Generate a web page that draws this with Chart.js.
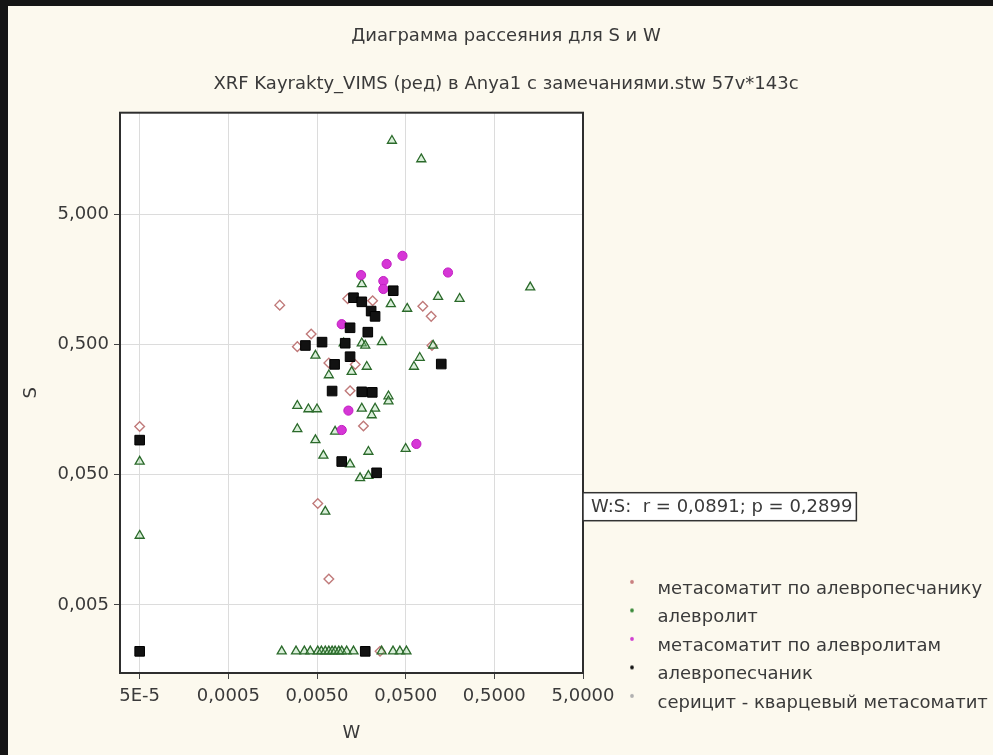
<!DOCTYPE html>
<html lang="ru">
<head>
<meta charset="utf-8">
<title>Диаграмма рассеяния для S и W</title>
<script src="https://cdn.jsdelivr.net/npm/chart.js@4.4.1/dist/chart.umd.min.js"></script>
<style>
  html, body { margin: 0; padding: 0; background: #fcf9ee; }
  #wrap { position: relative; width: 993px; height: 755px; overflow: hidden; }
  #wrap canvas { position: absolute; left: 0; top: 0; }
  .edge { position: absolute; background: #151515; }
  .edge.top { left: 0; top: 0; width: 993px; height: 6px; }
  .edge.left { left: 0; top: 0; width: 8px; height: 755px; }
</style>
</head>
<body>
<div id="wrap">
  <canvas id="scatterSW" width="993" height="755"></canvas>
  <div class="edge top"></div>
  <div class="edge left"></div>
</div>
<script>
// ── Оси (логарифмические) ──
var xTickValues = [0.00005, 0.0005, 0.005, 0.05, 0.5, 5];
var xTickLabels = ['5E-5', '0,0005', '0,0050', '0,0500', '0,5000', '5,0000'];
var yTickValues = [0.005, 0.05, 0.5, 5];
var yTickLabels = ['0,005', '0,050', '0,500', '5,000'];

var seriesNames = [
    'метасоматит по алевропесчанику',
    'алевролит',
    'метасоматит по алевролитам',
    'алевропесчаник',
    'серицит - кварцевый метасоматит'
];

// метасоматит по алевропесчанику
var mpsW = [0.0019, 0.0111, 0.0212, 0.078, 0.097, 0.0043, 0.0030, 0.099, 0.0068, 0.0135, 0.0118, 0.00005, 0.0167, 0.0051, 0.0068, 0.0257];
var mpsS = [1.00, 1.12, 1.08, 0.98, 0.82, 0.60, 0.48, 0.49, 0.36, 0.35, 0.22, 0.117, 0.118, 0.030, 0.0079, 0.0022];

// алевролит
var alvW = [0.035, 0.075, 1.27, 0.116, 0.203, 0.034, 0.052, 0.016, 0.027, 0.102,
            0.0048, 0.072, 0.062, 0.0068, 0.0100, 0.016, 0.0175, 0.0182, 0.0123, 0.032,
            0.0030, 0.0040, 0.0050, 0.0030, 0.0048, 0.0059, 0.019, 0.050, 0.032, 0.0226,
            0.0207, 0.0153, 0.019, 0.0118, 0.00005, 0.00005, 0.0062, 0.016, 0.0080,
            0.0020, 0.0029, 0.0036, 0.0042, 0.0051, 0.0056, 0.0062, 0.0068, 0.0074, 0.0080,
            0.0088, 0.0095, 0.0108, 0.0129, 0.0268, 0.036, 0.043, 0.051];
var alvS = [18.3, 13.2, 1.37, 1.16, 1.12, 1.02, 0.94, 1.45, 0.52, 0.49,
            0.41, 0.395, 0.337, 0.29, 0.51, 0.51, 0.49, 0.337, 0.308, 0.20,
            0.169, 0.159, 0.159, 0.112, 0.092, 0.070, 0.075, 0.079, 0.183, 0.161,
            0.143, 0.047, 0.049, 0.060, 0.063, 0.017, 0.026, 0.161, 0.107,
            0.0022, 0.0022, 0.0022, 0.0022, 0.0022, 0.0022, 0.0022, 0.0022, 0.0022, 0.0022,
            0.0022, 0.0022, 0.0022, 0.0022, 0.0022, 0.0022, 0.0022, 0.0022];

// метасоматит по алевролитам
var mplW = [0.046, 0.0305, 0.150, 0.0157, 0.028, 0.028, 0.0095, 0.0113, 0.066, 0.0095];
var mplS = [2.39, 2.07, 1.78, 1.70, 1.53, 1.33, 0.714, 0.155, 0.086, 0.110];

// алевропесчаник
var apsW = [0.0362, 0.0129, 0.016, 0.0204, 0.0226, 0.0118, 0.0187, 0.0037, 0.0057, 0.126,
            0.0079, 0.0118, 0.0074, 0.016, 0.021, 0.0104, 0.00005, 0.0095, 0.0235, 0.00005, 0.0175];
var apsS = [1.29, 1.14, 1.06, 0.90, 0.82, 0.67, 0.62, 0.49, 0.52, 0.353,
            0.351, 0.402, 0.219, 0.216, 0.214, 0.51, 0.092, 0.063, 0.0516, 0.0022, 0.0022];

// серицит - кварцевый метасоматит (точек на графике нет)
var skmW = [];
var skmS = [];

var corrLabel = 'W:S:  r = 0,0891; p = 0,2899';

var legendColors = ['#c98080', '#3a8a3a', '#d040d0', '#111111', '#b0b0b0'];

function toPoints(ws, ss) {
    return ws.map(function(w, i) { return { x: w, y: ss[i] }; });
}

// маленькая точка-маркер для легенды (чуть выше строки текста)
function legendDot(color) {
    var c = document.createElement('canvas');
    c.width = 40; c.height = 24;
    var g = c.getContext('2d');
    g.fillStyle = color;
    g.beginPath();
    g.arc(31, 5, 1.9, 0, Math.PI * 2);
    g.fill();
    return c;
}
var legendDots = legendColors.map(legendDot);

var FONT = '"DejaVu Sans", sans-serif';
var TEXT = '#3a3a3a';

// ── фон области построения, рамка и подпись корреляции ──
var plotFrame = {
    id: 'plotFrame',
    beforeDraw: function(chart) {
        var a = chart.chartArea, ctx = chart.ctx;
        ctx.save();
        ctx.fillStyle = '#ffffff';
        ctx.fillRect(a.left, a.top, a.right - a.left, a.bottom - a.top);
        ctx.restore();
    },
    afterDatasetsDraw: function(chart) {
        var a = chart.chartArea, ctx = chart.ctx;
        ctx.save();
        ctx.strokeStyle = '#2e2e2e';
        ctx.lineWidth = 2;
        ctx.strokeRect(a.left, a.top, a.right - a.left, a.bottom - a.top);
        ctx.restore();
    },
    afterDraw: function(chart) {
        var a = chart.chartArea, ctx = chart.ctx;
        ctx.save();
        ctx.font = '18px ' + FONT;
        var tw = ctx.measureText(corrLabel).width;
        var x = a.right, y = a.top + 380, h = 28;
        ctx.fillStyle = '#ffffff';
        ctx.fillRect(x, y, tw + 12, h);
        ctx.strokeStyle = '#333333';
        ctx.lineWidth = 1.5;
        ctx.strokeRect(x, y, tw + 12, h);
        ctx.fillStyle = TEXT;
        ctx.textBaseline = 'middle';
        ctx.fillText(corrLabel, x + 8, y + h / 2 + 1);
        ctx.restore();
    }
};

var ctx = document.getElementById('scatterSW').getContext('2d');
new Chart(ctx, {
    type: 'scatter',
    data: {
        datasets: [
            { label: seriesNames[0], data: toPoints(mpsW, mpsS), order: 4,
              pointStyle: 'rectRot', pointRadius: 4.8, borderWidth: 1.4,
              borderColor: '#c07a7a', backgroundColor: 'rgba(255,255,255,0.85)' },
            { label: seriesNames[1], data: toPoints(alvW, alvS), order: 3,
              pointStyle: 'triangle', pointRadius: 5.2, borderWidth: 1.3,
              borderColor: '#2b6a2b', backgroundColor: 'rgba(150,210,150,0.35)' },
            { label: seriesNames[2], data: toPoints(mplW, mplS), order: 2,
              pointStyle: 'circle', pointRadius: 4.6, borderWidth: 1,
              borderColor: '#c21fc2', backgroundColor: '#d636d6' },
            { label: seriesNames[3], data: toPoints(apsW, apsS), order: 1,
              pointStyle: 'rect', pointRadius: 6.8, borderWidth: 1,
              borderColor: '#000000', backgroundColor: '#121212' },
            { label: seriesNames[4], data: toPoints(skmW, skmS), order: 5,
              pointStyle: 'circle', pointRadius: 3, borderWidth: 1,
              borderColor: '#a0a0a0', backgroundColor: '#b0b0b0' }
        ]
    },
    options: {
        responsive: false,
        animation: false,
        layout: { padding: { left: 19, right: 0, top: 0, bottom: 0 } },
        plugins: {
            title: {
                display: true, text: 'Диаграмма рассеяния для S и W', color: TEXT,
                font: { family: FONT, size: 18, weight: 'normal' },
                padding: { top: 26, bottom: 0 }
            },
            subtitle: {
                display: true, text: 'XRF Kayrakty_VIMS (ред) в Anya1 с замечаниями.stw 57v*143c', color: TEXT,
                font: { family: FONT, size: 18, weight: 'normal' },
                padding: { top: 26, bottom: 17.5 }
            },
            legend: {
                position: 'right', align: 'start', maxWidth: 410,
                title: { display: true, text: '', padding: { top: 555, bottom: 0 } },
                labels: {
                    color: TEXT, font: { family: FONT, size: 18 },
                    usePointStyle: true, pointStyleWidth: 55, padding: 10.5,
                    generateLabels: function(chart) {
                        return chart.data.datasets.map(function(ds, i) {
                            return { text: ds.label, pointStyle: legendDots[i], fillStyle: legendColors[i],
                                     strokeStyle: legendColors[i], lineWidth: 0, fontColor: TEXT,
                                     hidden: !chart.isDatasetVisible(i), datasetIndex: i };
                        });
                    }
                }
            },
            tooltip: { enabled: false }
        },
        scales: {
            x: {
                type: 'logarithmic', position: 'bottom', min: 0.00003, max: 5,
                afterBuildTicks: function(scale) { scale.ticks = xTickValues.map(function(v) { return { value: v }; }); },
                afterFit: function(scale) { scale.height = 82; },
                ticks: { autoSkip: false, maxRotation: 0, padding: 7, color: TEXT, font: { family: FONT, size: 18 },
                         callback: function(v, i) { return xTickLabels[i]; } },
                grid: { color: '#dcdcdc', lineWidth: 1, tickLength: 6, tickColor: '#444444' },
                border: { display: false },
                title: { display: true, text: 'W', color: TEXT, font: { family: FONT, size: 18 }, padding: { top: 0, bottom: 11 } }
            },
            y: {
                type: 'logarithmic', position: 'left', min: 0.0015, max: 30,
                afterBuildTicks: function(scale) { scale.ticks = yTickValues.map(function(v) { return { value: v }; }); },
                afterFit: function(scale) { scale.width = 101; },
                ticks: { autoSkip: false, padding: 5, color: TEXT, font: { family: FONT, size: 18 },
                         callback: function(v, i) { return yTickLabels[i]; } },
                grid: { color: '#dcdcdc', lineWidth: 1, tickLength: 6, tickColor: '#444444' },
                border: { display: false },
                title: { display: true, text: 'S', color: TEXT, font: { family: FONT, size: 18 }, padding: { top: 2, bottom: 0 } }
            }
        }
    },
    plugins: [plotFrame]
});
</script>
</body>
</html>
